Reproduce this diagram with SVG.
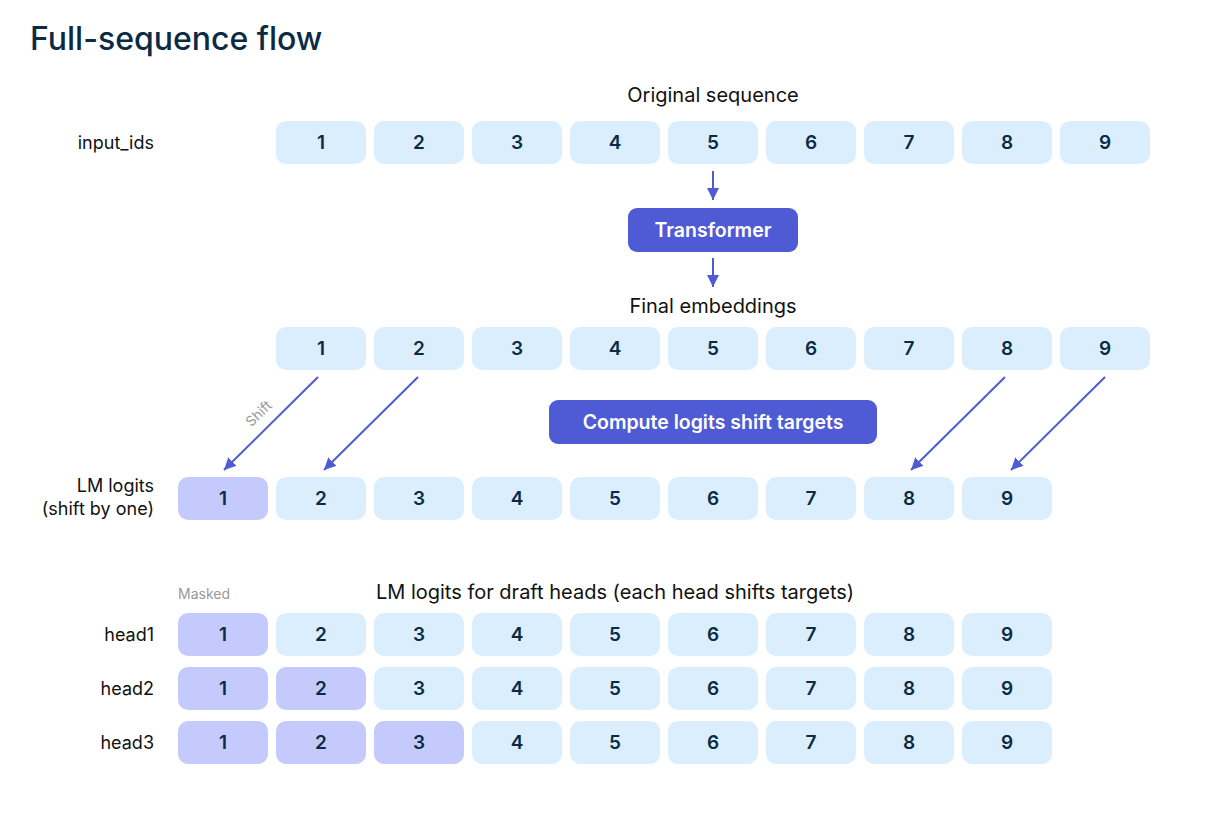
<svg xmlns="http://www.w3.org/2000/svg" width="1232" height="813" viewBox="0 0 1232 813">
<style>
text{font-family:Inter,"Liberation Sans",sans-serif}
.t{font-size:32px;font-weight:500;fill:#0b2b45}
.lbl{font-size:20px;fill:#111}
.rl{font-size:18px;fill:#111;text-anchor:end}
.c{text-anchor:middle}
.b{fill:#dbeefd}
.m{fill:#c5cafc}
.n{font-size:19px;font-weight:600;fill:#0b2b45;text-anchor:middle}
.p{fill:#4f5bd5}
.pt{font-size:19.5px;font-weight:600;fill:#fff;text-anchor:middle}
.g{font-size:14px;fill:#999}
.a{stroke:#4f5bd5;stroke-width:2;fill:none;marker-end:url(#ah)}
</style>
<defs>
<marker id="ah" markerWidth="12" markerHeight="12" refX="10" refY="5" orient="auto" markerUnits="userSpaceOnUse" viewBox="0 0 10 10">
<path d="M0,0 L10,5 L0,10 z" fill="#4f5bd5"/>
</marker>
</defs>
<rect width="1232" height="813" fill="#fff"/>
<text class="t" x="30" y="50">Full-sequence flow</text>

<g id="labels">
<text class="lbl c" x="713" y="102">Original sequence</text>
<text class="rl" x="154" y="149">input_ids</text>
<text class="lbl c" x="713" y="313">Final embeddings</text>
<text class="rl" x="154" y="492">LM logits</text>
<text class="rl" x="154" y="515">(shift by one)</text>
<text class="g" x="178" y="599">Masked</text>
<text class="lbl c" x="615" y="599">LM logits for draft heads (each head shifts targets)</text>
<text class="rl" x="154" y="641">head1</text>
<text class="rl" x="154" y="695">head2</text>
<text class="rl" x="154" y="749">head3</text>
</g>

<g id="input_ids">
<rect class="b" x="276" y="121" width="90" height="43" rx="10"/><text class="n" x="321" y="149">1</text>
<rect class="b" x="374" y="121" width="90" height="43" rx="10"/><text class="n" x="419" y="149">2</text>
<rect class="b" x="472" y="121" width="90" height="43" rx="10"/><text class="n" x="517" y="149">3</text>
<rect class="b" x="570" y="121" width="90" height="43" rx="10"/><text class="n" x="615" y="149">4</text>
<rect class="b" x="668" y="121" width="90" height="43" rx="10"/><text class="n" x="713" y="149">5</text>
<rect class="b" x="766" y="121" width="90" height="43" rx="10"/><text class="n" x="811" y="149">6</text>
<rect class="b" x="864" y="121" width="90" height="43" rx="10"/><text class="n" x="909" y="149">7</text>
<rect class="b" x="962" y="121" width="90" height="43" rx="10"/><text class="n" x="1007" y="149">8</text>
<rect class="b" x="1060" y="121" width="90" height="43" rx="10"/><text class="n" x="1105" y="149">9</text>
</g>

<g id="transformer">
<rect class="p" x="628" y="208" width="170" height="44" rx="9"/>
<text class="pt" x="713" y="237">Transformer</text>
</g>

<g id="embeddings">
<rect class="b" x="276" y="327" width="90" height="43" rx="10"/><text class="n" x="321" y="355">1</text>
<rect class="b" x="374" y="327" width="90" height="43" rx="10"/><text class="n" x="419" y="355">2</text>
<rect class="b" x="472" y="327" width="90" height="43" rx="10"/><text class="n" x="517" y="355">3</text>
<rect class="b" x="570" y="327" width="90" height="43" rx="10"/><text class="n" x="615" y="355">4</text>
<rect class="b" x="668" y="327" width="90" height="43" rx="10"/><text class="n" x="713" y="355">5</text>
<rect class="b" x="766" y="327" width="90" height="43" rx="10"/><text class="n" x="811" y="355">6</text>
<rect class="b" x="864" y="327" width="90" height="43" rx="10"/><text class="n" x="909" y="355">7</text>
<rect class="b" x="962" y="327" width="90" height="43" rx="10"/><text class="n" x="1007" y="355">8</text>
<rect class="b" x="1060" y="327" width="90" height="43" rx="10"/><text class="n" x="1105" y="355">9</text>
</g>

<g id="compute">
<rect class="p" x="549" y="400" width="328" height="44" rx="9"/>
<text class="pt" x="713" y="429">Compute logits shift targets</text>
</g>

<g id="lm_logits">
<rect class="m" x="178" y="477" width="90" height="43" rx="10"/><text class="n" x="223" y="505">1</text>
<rect class="b" x="276" y="477" width="90" height="43" rx="10"/><text class="n" x="321" y="505">2</text>
<rect class="b" x="374" y="477" width="90" height="43" rx="10"/><text class="n" x="419" y="505">3</text>
<rect class="b" x="472" y="477" width="90" height="43" rx="10"/><text class="n" x="517" y="505">4</text>
<rect class="b" x="570" y="477" width="90" height="43" rx="10"/><text class="n" x="615" y="505">5</text>
<rect class="b" x="668" y="477" width="90" height="43" rx="10"/><text class="n" x="713" y="505">6</text>
<rect class="b" x="766" y="477" width="90" height="43" rx="10"/><text class="n" x="811" y="505">7</text>
<rect class="b" x="864" y="477" width="90" height="43" rx="10"/><text class="n" x="909" y="505">8</text>
<rect class="b" x="962" y="477" width="90" height="43" rx="10"/><text class="n" x="1007" y="505">9</text>
</g>

<g id="head1">
<rect class="m" x="178" y="613" width="90" height="43" rx="10"/><text class="n" x="223" y="641">1</text>
<rect class="b" x="276" y="613" width="90" height="43" rx="10"/><text class="n" x="321" y="641">2</text>
<rect class="b" x="374" y="613" width="90" height="43" rx="10"/><text class="n" x="419" y="641">3</text>
<rect class="b" x="472" y="613" width="90" height="43" rx="10"/><text class="n" x="517" y="641">4</text>
<rect class="b" x="570" y="613" width="90" height="43" rx="10"/><text class="n" x="615" y="641">5</text>
<rect class="b" x="668" y="613" width="90" height="43" rx="10"/><text class="n" x="713" y="641">6</text>
<rect class="b" x="766" y="613" width="90" height="43" rx="10"/><text class="n" x="811" y="641">7</text>
<rect class="b" x="864" y="613" width="90" height="43" rx="10"/><text class="n" x="909" y="641">8</text>
<rect class="b" x="962" y="613" width="90" height="43" rx="10"/><text class="n" x="1007" y="641">9</text>
</g>

<g id="head2">
<rect class="m" x="178" y="667" width="90" height="43" rx="10"/><text class="n" x="223" y="695">1</text>
<rect class="m" x="276" y="667" width="90" height="43" rx="10"/><text class="n" x="321" y="695">2</text>
<rect class="b" x="374" y="667" width="90" height="43" rx="10"/><text class="n" x="419" y="695">3</text>
<rect class="b" x="472" y="667" width="90" height="43" rx="10"/><text class="n" x="517" y="695">4</text>
<rect class="b" x="570" y="667" width="90" height="43" rx="10"/><text class="n" x="615" y="695">5</text>
<rect class="b" x="668" y="667" width="90" height="43" rx="10"/><text class="n" x="713" y="695">6</text>
<rect class="b" x="766" y="667" width="90" height="43" rx="10"/><text class="n" x="811" y="695">7</text>
<rect class="b" x="864" y="667" width="90" height="43" rx="10"/><text class="n" x="909" y="695">8</text>
<rect class="b" x="962" y="667" width="90" height="43" rx="10"/><text class="n" x="1007" y="695">9</text>
</g>

<g id="head3">
<rect class="m" x="178" y="721" width="90" height="43" rx="10"/><text class="n" x="223" y="749">1</text>
<rect class="m" x="276" y="721" width="90" height="43" rx="10"/><text class="n" x="321" y="749">2</text>
<rect class="m" x="374" y="721" width="90" height="43" rx="10"/><text class="n" x="419" y="749">3</text>
<rect class="b" x="472" y="721" width="90" height="43" rx="10"/><text class="n" x="517" y="749">4</text>
<rect class="b" x="570" y="721" width="90" height="43" rx="10"/><text class="n" x="615" y="749">5</text>
<rect class="b" x="668" y="721" width="90" height="43" rx="10"/><text class="n" x="713" y="749">6</text>
<rect class="b" x="766" y="721" width="90" height="43" rx="10"/><text class="n" x="811" y="749">7</text>
<rect class="b" x="864" y="721" width="90" height="43" rx="10"/><text class="n" x="909" y="749">8</text>
<rect class="b" x="962" y="721" width="90" height="43" rx="10"/><text class="n" x="1007" y="749">9</text>
</g>

<g id="connectors">
<line class="a" x1="318" y1="377" x2="224" y2="470"/>
<line class="a" x1="418" y1="377" x2="324" y2="470"/>
<line class="a" x1="1005" y1="377" x2="911" y2="470"/>
<line class="a" x1="1105" y1="377" x2="1011" y2="470"/>
<line class="a" x1="713" y1="171" x2="713" y2="200"/>
<line class="a" x1="713" y1="258" x2="713" y2="287"/>
<text class="g" x="0" y="0" text-anchor="middle" transform="translate(262,417) rotate(-44)">Shift</text>
</g>
</svg>
